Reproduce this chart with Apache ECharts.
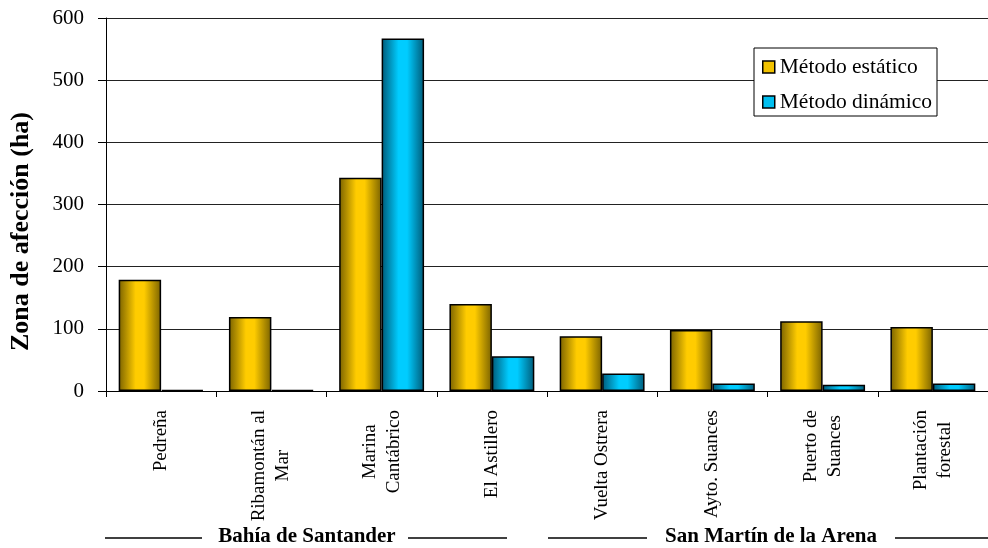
<!DOCTYPE html>
<html><head><meta charset="utf-8">
<script src="https://cdn.jsdelivr.net/npm/echarts@6/dist/echarts.min.js"></script>
<style>html,body{margin:0;padding:0;background:#fff}#c{width:988px;height:548px}</style>
</head><body><div id="c"></div>
<script>
const categories = ['Pedreña', 'Ribamontán al\nMar', 'Marina\nCantábrico', 'El Astillero', 'Vuelta Ostrera', 'Ayto. Suances', 'Puerto de\nSuances', 'Plantación\nforestal'];
const staticValues = [179, 119, 343, 140, 88, 98, 112, 103];
const dynamicValues = [2, 2, 567, 56, 28, 12, 10, 12];
const seriesNames = ['Método estático', 'Método dinámico'];
const yAxisTitle = 'Zona de afección (ha)';
const yMin = 0, yMax = 600, yStep = 100;
const groupNames = ['Bahía de Santander', 'San Martín de la Arena'];

const FONT = '"Liberation Serif","Times New Roman",serif';
const chart = echarts.init(document.getElementById('c'));

function grad(dark, bright) {
  return new echarts.graphic.LinearGradient(0, 0, 1, 0, [
    {offset: 0, color: dark},
    {offset: 0.4, color: bright},
    {offset: 0.6, color: bright},
    {offset: 1, color: dark}
  ]);
}

function groupLabel(text, cx, l1, r1, l2, r2, y) {
  return [
    {type: 'line', shape: {x1: l1, y1: y, x2: r1, y2: y}, style: {stroke: '#000', lineWidth: 1.5}},
    {type: 'line', shape: {x1: l2, y1: y, x2: r2, y2: y}, style: {stroke: '#000', lineWidth: 1.5}},
    {type: 'text', x: cx, y: y - 1, style: {text: text, font: 'bold 21px ' + FONT, fill: '#000', align: 'center', verticalAlign: 'middle'}}
  ];
}

chart.setOption({
  animation: false,
  backgroundColor: '#fff',
  grid: {left: 104, top: 18, width: 896, height: 373, containLabel: false},
  legend: {
    orient: 'vertical',
    left: 754, top: 48,
    backgroundColor: '#fff',
    borderColor: '#000', borderWidth: 1,
    padding: [8, 5, 3, 8],
    itemWidth: 12, itemHeight: 12, itemGap: 13,
    textStyle: {fontFamily: FONT, fontSize: 21.5, color: '#000'},
    data: [
      {name: seriesNames[0], icon: 'rect', itemStyle: {color: '#F2C200', borderColor: '#000', borderWidth: 1.5}},
      {name: seriesNames[1], icon: 'rect', itemStyle: {color: '#00BFF0', borderColor: '#000', borderWidth: 1.5}}
    ]
  },
  xAxis: {
    type: 'category',
    data: categories,
    axisLine: {lineStyle: {color: '#000', width: 1}},
    axisTick: {show: true, alignWithLabel: false, length: 6, lineStyle: {color: '#000'}},
    axisLabel: {
      interval: 0, rotate: 90, margin: 19,
      formatter: function (v) { return v.split('\n').map(s => '{a|' + s + '}').join('\n'); },
      rich: {a: {fontFamily: FONT, fontSize: 19, lineHeight: 24, color: '#000', align: 'center'}}
    }
  },
  yAxis: {
    type: 'value',
    min: yMin, max: yMax, interval: yStep,
    name: yAxisTitle,
    nameLocation: 'middle',
    nameGap: 72,
    nameTextStyle: {fontFamily: FONT, fontSize: 26, fontWeight: 'bold', color: '#000', padding: [0, 54, 0, 0]},
    axisLine: {show: true, lineStyle: {color: '#000', width: 1}},
    axisTick: {show: true, length: 8, lineStyle: {color: '#000'}},
    axisLabel: {fontFamily: FONT, fontSize: 21, color: '#000', margin: 22},
    splitLine: {lineStyle: {color: '#222', width: 1}}
  },
  series: [
    {
      name: seriesNames[0], type: 'bar', data: staticValues,
      barGap: '0%', barCategoryGap: '23%',
      itemStyle: {color: grad('#7A6200', '#FFCC00'), borderColor: '#000', borderWidth: 1.5}
    },
    {
      name: seriesNames[1], type: 'bar', data: dynamicValues,
      barGap: '0%', barCategoryGap: '23%',
      itemStyle: {color: grad('#005A78', '#00CCFF'), borderColor: '#000', borderWidth: 1.5}
    }
  ],
  graphic: [].concat(
    groupLabel(groupNames[0], 307, 105, 202, 408, 507, 538),
    groupLabel(groupNames[1], 771, 548, 647, 895, 996, 538)
  )
});
</script></body></html>
